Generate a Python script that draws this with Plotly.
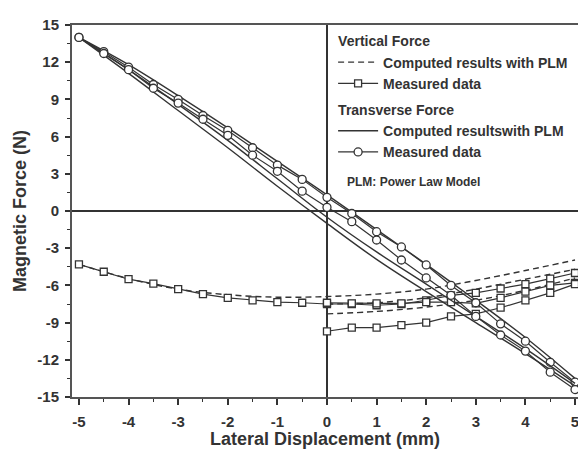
import plotly.graph_objects as go

# ---------------- data ----------------
x_full = [-5, -4.5, -4, -3.5, -3, -2.5, -2, -1.5, -1, -0.5, 0, 0.5, 1, 1.5, 2, 2.5, 3, 3.5, 4, 4.5, 5]
x_right = [0, 0.5, 1, 1.5, 2, 2.5, 3, 3.5, 4, 4.5, 5]
x_calc = [-5, -4, -3, -2, -1, 0, 1, 2, 3, 4, 5]

# Vertical force - measured
v_meas_a = [-4.3, -4.9, -5.5, -5.85, -6.3, -6.7, -7.0, -7.2, -7.35, -7.4, -7.5,
            -7.5, -7.6, -7.5, -7.2, -6.8, -6.6, -6.25, -5.9, -5.45, -5.0]
v_meas_b = [-7.4, -7.45, -7.45, -7.45, -7.35, -7.35, -7.45, -7.0, -6.5, -6.0, -5.8]
v_meas_c = [-9.7, -9.4, -9.4, -9.2, -9.0, -8.5, -8.3, -7.8, -7.2, -6.6, -5.9]

# Vertical force - computed (PLM)
v_calc_a = [-4.3, -5.45, -6.3, -6.75, -6.95, -6.9, -6.7, -6.3, -5.6, -4.8, -3.95]
v_calc_b_x = [0, 1, 2, 3, 4, 5]
v_calc_b = [-7.5, -7.4, -7.0, -6.3, -5.5, -4.7]
v_calc_c = [-8.3, -8.1, -7.75, -7.2, -6.4, -5.4]

# Transverse force - measured
t_meas_a = [14.0, 12.85, 11.6, 10.2, 9.0, 7.7, 6.5, 5.1, 3.7, 2.55, 1.1,
            -0.2, -1.67, -2.9, -4.35, -6.0, -7.4, -9.1, -10.5, -12.2, -13.8]
t_meas_b = [14.0, 12.7, 11.4, 9.9, 8.7, 7.4, 6.1, 4.5, 3.2, 1.6, 0.3,
            -0.86, -2.34, -3.95, -5.4, -6.8, -8.5, -10.0, -11.3, -13.0, -14.4]

# Transverse force - computed (PLM)
t_calc_a = [14.0, 11.8, 9.3, 6.7, 4.0, 1.3, -1.5, -4.3, -7.2, -10.2, -13.5]
t_calc_b = [14.0, 11.4, 8.6, 5.7, 2.6, -0.5, -3.3, -5.9, -8.5, -11.1, -13.9]
t_calc_c = [14.0, 11.1, 8.1, 5.1, 2.0, -1.0, -3.9, -6.5, -9.0, -11.5, -14.1]

x_ticks = [-5, -4, -3, -2, -1, 0, 1, 2, 3, 4, 5]
x_tick_text = ["-5", "-4", "-3", "-2", "-1", "0", "1", "2", "3", "4", "5"]
y_ticks = [-15, -12, -9, -6, -3, 0, 3, 6, 9, 12, 15]
y_tick_text = ["-15", "-12", "-9", "-6", "-3", "0", "3", "6", "9", "12", "15"]

# ---------------- style ----------------
INK = "#333333"
FONT = "Liberation Sans"

fig = go.Figure()

def meas(x, y, symbol, size, name=None, show=False, group=None, gtitle=None):
    tr = go.Scatter(
        x=x, y=y, mode="lines+markers",
        line=dict(color=INK, width=1.2),
        marker=dict(symbol=symbol, size=size, color="white",
                    line=dict(color=INK, width=1.3)),
        name=name or "", showlegend=show, legendgroup=group, cliponaxis=False,
    )
    if gtitle:
        tr.legendgrouptitle = dict(text=gtitle, font=dict(family=FONT, size=14, color=INK, weight="bold"))
    return tr

def calc(x, y, dash, name=None, show=False, group=None, gtitle=None):
    tr = go.Scatter(
        x=x, y=y, mode="lines", line=dict(color=INK, width=1.4, dash=dash, shape="spline"),
        name=name or "", showlegend=show, legendgroup=group,
    )
    if gtitle:
        tr.legendgrouptitle = dict(text=gtitle, font=dict(family=FONT, size=14, color=INK, weight="bold"))
    return tr

# Vertical force group
fig.add_trace(calc(x_calc, v_calc_a, "6px,4px", "Computed results with PLM", True, "v", "Vertical Force"))
fig.add_trace(meas(x_full, v_meas_a, "square", 7, "Measured data", True, "v"))
fig.add_trace(calc(v_calc_b_x, v_calc_b, "6px,4px", group="v"))
fig.add_trace(calc(v_calc_b_x, v_calc_c, "6px,4px", group="v"))
fig.add_trace(meas(x_right, v_meas_b, "square", 7, group="v"))
fig.add_trace(meas(x_right, v_meas_c, "square", 7, group="v"))

# Transverse force group
fig.add_trace(calc(x_calc, t_calc_a, "solid", "Computed resultswith PLM", True, "t", "Transverse Force"))
fig.add_trace(meas(x_full, t_meas_a, "circle", 8, "Measured data", True, "t"))
fig.add_trace(calc(x_calc, t_calc_b, "solid", group="t"))
fig.add_trace(calc(x_calc, t_calc_c, "solid", group="t"))
fig.add_trace(meas(x_full, t_meas_b, "circle", 8, group="t"))

tickfont = dict(family=FONT, size=15, color=INK, weight="bold")

fig.update_layout(
    width=578, height=449,
    margin=dict(l=72, r=0, t=25, b=52),
    paper_bgcolor="white", plot_bgcolor="white",
    font=dict(family=FONT, color=INK),
    xaxis=dict(
        range=[-5.14, 5.06], tickvals=x_ticks, ticktext=x_tick_text,
        ticks="outside", ticklen=6, tickwidth=1.5, tickcolor=INK,
        minor=dict(dtick=0.5, ticks="outside", ticklen=3, tickwidth=1.2, tickcolor=INK),
        showgrid=False, showline=True, linecolor="#555555", linewidth=2, mirror=True,
        zeroline=True, zerolinecolor=INK, zerolinewidth=1.5,
        tickfont=tickfont, ticklabelstandoff=4, ticklabeloverflow="allow",
        title=dict(text="Lateral Displacement (mm)", standoff=2,
                   font=dict(family=FONT, size=18, color=INK, weight="bold")),
    ),
    yaxis=dict(
        range=[-15, 15], tickvals=y_ticks, ticktext=y_tick_text,
        ticks="outside", ticklen=5, tickwidth=1.5, tickcolor=INK,
        minor=dict(dtick=1.5, ticks="outside", ticklen=3, tickwidth=1.2, tickcolor=INK),
        showgrid=False, showline=True, linecolor="#555555", linewidth=2, mirror=False,
        zeroline=True, zerolinecolor=INK, zerolinewidth=1.5,
        tickfont=tickfont, ticklabelstandoff=3,
        title=dict(text="Magnetic Force (N)", standoff=6,
                   font=dict(family=FONT, size=18, color=INK, weight="bold")),
    ),
    legend=dict(
        x=0.516, y=0.999, xanchor="left", yanchor="top",
        bgcolor="rgba(0,0,0,0)", borderwidth=0,
        traceorder="grouped", tracegroupgap=5,
        font=dict(family=FONT, size=14, color=INK, weight="bold"),
        itemwidth=40,
    ),
    annotations=[dict(
        text="PLM: Power Law Model", xref="paper", yref="paper",
        x=0.54, y=0.578, xanchor="left", yanchor="middle", showarrow=False,
        font=dict(family=FONT, size=12, color=INK, weight="bold"),
    )],
)

fig.write_html("out.html")
